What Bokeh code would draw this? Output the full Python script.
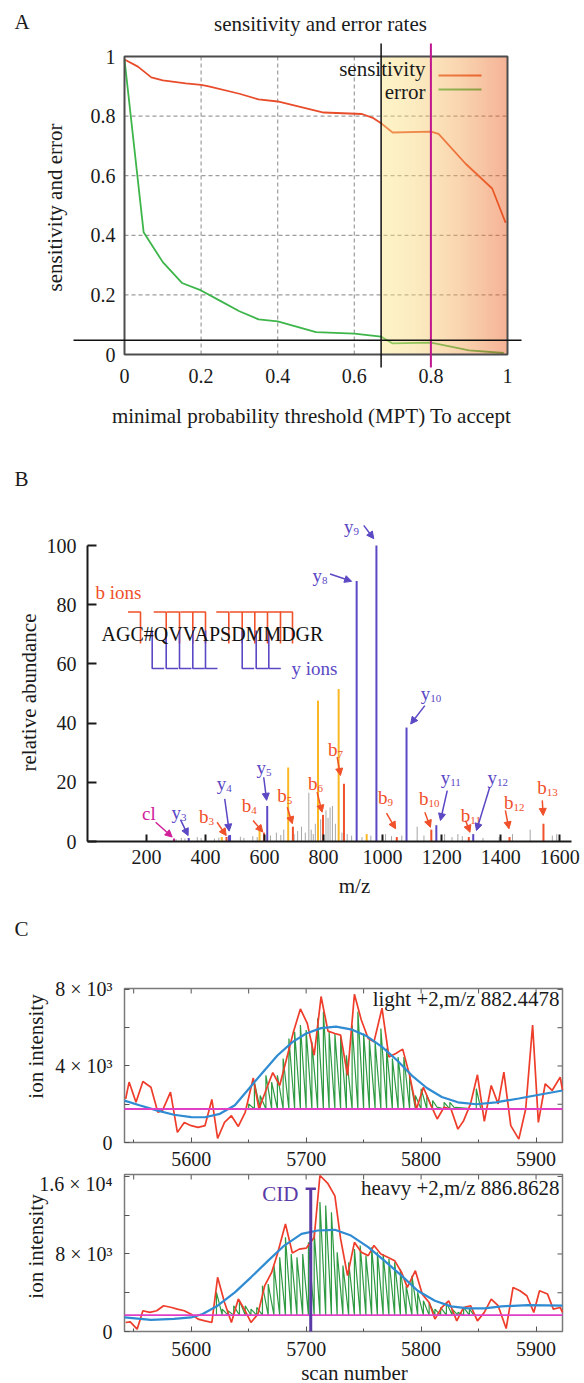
import numpy as np
from bokeh.plotting import figure
from bokeh.models import Range1d, FixedTicker, Label, Arrow, NormalHead, LinearAxis
from bokeh.layouts import column
from bokeh.embed import file_html
from bokeh.resources import INLINE

SERIF = "Liberation Serif"
W = 584

# ---------------- Panel A data ----------------
a_title = "sensitivity and error rates"
a_xlabel = "minimal probability threshold (MPT) To accept"
a_ylabel = "sensitivity and error"
sens_mpt = [0.0, 0.035, 0.07, 0.10, 0.16, 0.20, 0.22, 0.30, 0.35, 0.40, 0.52, 0.62, 0.65, 0.67, 0.70, 0.80, 0.82, 0.89, 0.96, 0.995]
sensitivity = [0.99, 0.966, 0.93, 0.92, 0.91, 0.905, 0.90, 0.875, 0.856, 0.849, 0.812, 0.807, 0.793, 0.776, 0.745, 0.748, 0.740, 0.641, 0.557, 0.442]
err_mpt = [0.0, 0.05, 0.07, 0.10, 0.15, 0.20, 0.25, 0.30, 0.35, 0.40, 0.50, 0.60, 0.67, 0.70, 0.80, 0.82, 0.90, 0.99]
error_rate = [0.99, 0.41, 0.37, 0.31, 0.24, 0.215, 0.18, 0.145, 0.118, 0.111, 0.075, 0.07, 0.06, 0.037, 0.04, 0.035, 0.014, 0.005]
mpt_cutoff = 0.67
mpt_chosen = 0.80
error_limit = 0.048
a_ticks = [0, 0.2, 0.4, 0.6, 0.8, 1]
a_tick_labels = ["0", "0.2", "0.4", "0.6", "0.8", "1"]
a_grid = [0.2, 0.4, 0.6, 0.8]

# ---------------- Panel B data ----------------
peptide = "AGC#QVVAPSDMMDGR"
b_xticks = [200, 400, 600, 800, 1000, 1200, 1400, 1600]
b_yticks = [0, 20, 40, 60, 80, 100]
y_ion_mz = [343, 479, 483, 609, 912, 979, 1081, 1182, 1307]
y_ion_int = [1.2, 2.0, 2.2, 12.0, 88.0, 100.0, 38.5, 5.5, 2.5]
b_ion_mz = [471, 598, 696, 798, 869, 1048, 1165, 1292, 1430, 1545]
b_ion_int = [1.5, 3.0, 5.0, 9.0, 19.5, 1.5, 4.0, 1.5, 1.5, 6.0]
other_mz = [455, 583, 680, 781, 851, 946]
other_int = [1.5, 5.3, 25.0, 47.6, 51.5, 2.5]
cl_mz = [293]
cl_int = [1.0]
noise_mz = [300, 318, 330, 372, 385, 430, 445, 518, 530, 560, 575, 620, 640, 655, 665, 700, 712, 725,
            738, 750, 758, 765, 772, 790, 808, 815, 822, 830, 840, 862, 880, 895, 930, 960, 1010,
            1030, 1065, 1117, 1140, 1210, 1235, 1255, 1270, 1340, 1395, 1440, 1500, 1575, 1590]
noise_int = [0.8, 1.2, 1.0, 1.5, 1.2, 1.0, 1.3, 1.6, 1.2, 1.8, 1.5, 2.0, 3.0, 2.2, 4.0, 2.5, 3.5, 5.0,
             3.0, 16.5, 4.0, 2.5, 6.0, 7.5, 10.5, 8.0, 11.5, 12.0, 6.0, 3.0, 2.5, 2.0, 1.5, 2.0, 2.5,
             1.8, 2.0, 5.0, 2.0, 2.5, 1.5, 2.5, 1.8, 1.2, 1.5, 2.5, 4.0, 2.0, 2.5]
ion_label = ["cl", "y3", "b3", "y4", "b4", "y5", "b5", "b6", "b7", "y8", "y9", "y10", "b9", "b10",
             "y11", "b11", "y12", "b12", "b13"]
label_mz = [208, 307, 400, 460, 545, 595, 665, 769, 837, 784, 891, 1151, 1006, 1145, 1219, 1287, 1377, 1433, 1546]
label_ab = [9.6, 9.9, 8.4, 19.5, 12.2, 25.1, 15.5, 19.5, 31.0, 89.9, 106.5, 49.9, 15.0, 14.4, 21.7, 8.8, 21.7, 13.3, 18.3]
arrow_from_mz = [231, 315, 439, 465, 561, 597, 677, 778, 846, 822, 936, 1143, 1013, 1143, 1219, 1281, 1363, 1416, 1541]
arrow_from_ab = [6.5, 7.4, 6.5, 14.4, 7.1, 21.7, 11.6, 16.7, 28.5, 90.4, 106.8, 45.9, 9.6, 9.9, 17.2, 7.1, 18.3, 10.5, 13.9]
arrow_to_mz = [287, 341, 470, 480, 594, 607, 694, 795, 857, 895, 970, 1095, 1044, 1162, 1196, 1296, 1318, 1428, 1544]
arrow_to_ab = [1.5, 2.0, 2.0, 3.5, 3.2, 13.9, 6.0, 9.9, 22.3, 87.9, 102.3, 39.7, 4.3, 4.8, 7.1, 3.1, 3.7, 4.3, 8.8]

# ---------------- Panel C data ----------------
c_xticks = [5600, 5700, 5800, 5900]
c_xminor = [5550, 5650, 5750, 5850]
light_scan = [5543, 5546, 5552, 5558, 5565, 5571, 5575, 5582, 5588, 5594, 5600, 5606, 5612, 5618, 5623, 5629,
              5635, 5641, 5647, 5654, 5659, 5666, 5671, 5677, 5683, 5689, 5695, 5701, 5707, 5713, 5719, 5725,
              5730, 5736, 5742, 5748, 5754, 5759, 5766, 5772, 5778, 5784, 5790, 5796, 5802, 5808, 5814, 5820,
              5826, 5832, 5837, 5843, 5849, 5855, 5861, 5867, 5872, 5878, 5885, 5891, 5897, 5902, 5908, 5914,
              5921, 5923]
light_int = [2280, 3160, 2100, 3190, 2890, 1580, 1670, 2630, 530, 1050, 880, 790, 880, 2250, 210, 1050,
             1400, 840, 1580, 3370, 1750, 2890, 3650, 2980, 4380, 5790, 6980, 6230, 4560, 7630, 5820, 5700,
             5610, 3510, 7750, 6400, 5440, 5260, 7020, 4470, 4650, 4880, 3510, 1750, 2890, 2020, 1230, 1840,
             1750, 700, 1140, 2020, 3540, 1100, 2980, 2020, 3680, 880, 175, 1750, 6140, 1050, 3070, 2720,
             3420, 2720]
light_fit_scan = [5542, 5555, 5570, 5585, 5600, 5612, 5625, 5638, 5650, 5662, 5675, 5688, 5700, 5713,
                  5726, 5740, 5753, 5766, 5779, 5792, 5805, 5818, 5832, 5848, 5865, 5885, 5905, 5923]
light_fit = [2190, 1950, 1680, 1450, 1330, 1320, 1500, 1950, 2800, 3650, 4550, 5250, 5700, 5980,
             6060, 5900, 5550, 5000, 4300, 3500, 2850, 2380, 2100, 2000, 2100, 2300, 2520, 2720]
light_base = 1750
light_stem_scan = [5650, 5655, 5660, 5665, 5670, 5675, 5680, 5685, 5690, 5695, 5700, 5705, 5710, 5715,
                   5720, 5725, 5730, 5735, 5740, 5745, 5750, 5755, 5760, 5765, 5770, 5775, 5780, 5785,
                   5790, 5795, 5800, 5805, 5810, 5815, 5820, 5825, 5830, 5848]
light_stem_top = [2020, 3160, 2460, 3510, 3160, 3510, 4385, 5440, 5790, 6140, 5880, 5260, 6490, 6840,
                  5790, 5700, 5525, 4560, 6140, 6840, 5700, 5350, 5260, 5960, 4910, 4385, 4470, 4470,
                  3510, 2460, 2810, 2460, 2190, 1840, 2100, 2100, 1840, 2810]
heavy_scan = [5543, 5547, 5553, 5558, 5564, 5570, 5576, 5583, 5588, 5594, 5600, 5606, 5612, 5618, 5623,
              5629, 5635, 5641, 5647, 5652, 5658, 5664, 5670, 5675, 5682, 5688, 5694, 5700, 5707, 5712,
              5719, 5725, 5730, 5736, 5742, 5748, 5754, 5759, 5765, 5771, 5777, 5783, 5788, 5795, 5801,
              5807, 5812, 5818, 5824, 5831, 5837, 5843, 5849, 5855, 5861, 5867, 5874, 5880, 5886, 5892,
              5898, 5903, 5910, 5915, 5921, 5923]
heavy_int = [930, 1000, 240, 2140, 1970, 2140, 2660, 2480, 2310, 2140, 1790, 1280, 1100, 930, 5590,
             3000, 930, 3350, 2140, 930, 1790, 4730, 6100, 8000, 11100, 8100, 8500, 8600, 9700, 16100,
             15250, 14000, 9550, 5760, 9200, 8180, 7830, 8870, 8000, 7660, 7310, 6100, 4550, 6280, 3860,
             3000, 1280, 2480, 3170, 1100, 2480, 2660, 1100, 1970, 3350, 2660, 310, 4550, 4210, 3690,
             1970, 4210, 3860, 2310, 2480, 1970]
heavy_fit_scan = [5542, 5565, 5585, 5600, 5610, 5623, 5638, 5652, 5667, 5681, 5696, 5710, 5725, 5739,
                  5754, 5768, 5783, 5797, 5812, 5826, 5841, 5855, 5870, 5893, 5923]
heavy_fit = [1450, 1200, 1300, 1450, 1800, 2660, 4040, 5590, 7310, 8870, 10070, 10420, 10490, 9900,
             8700, 7310, 5760, 4210, 3170, 2590, 2380, 2380, 2590, 2730, 2660]
heavy_base = 1690
heavy_stem_scan = [5622, 5627, 5632, 5637, 5642, 5647, 5652, 5657, 5662, 5667, 5672, 5677, 5682, 5687,
                   5692, 5697, 5702, 5707, 5712, 5717, 5722, 5727, 5732, 5737, 5742, 5747, 5752, 5757,
                   5762, 5767, 5772, 5777, 5782, 5787, 5792, 5797, 5802, 5807, 5812, 5817, 5822, 5827,
                   5832, 5837, 5842]
heavy_stem_top = [4040, 2310, 2140, 2660, 3170, 2660, 2310, 2480, 4730, 4900, 6800, 7650, 9730, 8000,
                  7650, 8000, 9200, 10250, 13350, 13000, 12300, 8180, 6800, 7140, 8520, 8870, 7830, 8700,
                  8180, 8000, 7490, 7140, 6450, 4730, 5760, 4040, 3170, 3000, 2310, 2480, 3000, 2310,
                  1970, 2480, 2310]
cid_scan = 5704
cid_top = 14730
light_yticks = [0, 4000, 8000]
light_yminor = [2000, 6000]
light_ylabels = ["0", "4 × 10³", "8 × 10³"]
heavy_yticks = [0, 8000, 16000]
heavy_yminor = [4000, 12000]
heavy_ylabels = ["0", "8 × 10³", "1.6 × 10⁴"]

# ---------------- colours ----------------
RED_A, GREEN_A = "#e84c2a", "#3db54a"
PURPLE, RED_B, GOLD, GRAY, MAGENTA = "#5a48c4", "#f0502a", "#f9b824", "#a6a6a6", "#d0209a"
RED_C, BLUE_C, GREEN_C, MAG_C, CID_C = "#ee3d2a", "#2f8bd2", "#2e9a42", "#e040c8", "#5a3aa5"
TXT = "#1a1a1a"


def panel(canvas_top, canvas_h, frame, xr, yr):
    """Figure whose frame is the whole canvas; data range placed at page box `frame`."""
    fl, ft, fw, fh = frame
    x0, x1 = xr
    y0, y1 = yr
    sx = fw / (x1 - x0)
    sy = fh / (y1 - y0)
    fb = ft + fh
    p = figure(width=W, height=canvas_h, output_backend="svg", toolbar_location=None,
               x_range=Range1d(x0 - fl / sx, x0 + (W - fl) / sx),
               y_range=Range1d(y0 - (canvas_top + canvas_h - fb) / sy, y0 + (fb - canvas_top) / sy),
               min_border=0, x_axis_location=None, y_axis_location=None)
    p.outline_line_color = None
    p.grid.visible = False
    p.title.visible = False

    def fx(px):
        return x0 + (px - fl) / sx

    def fy(py):
        return y0 + (fb - py) / sy
    return p, fx, fy


def axis(loc, ticks, size="20px", **kw):
    ax = LinearAxis(fixed_location=loc, ticker=FixedTicker(ticks=ticks, minor_ticks=kw.pop("minor", [])),
                    major_label_text_font=SERIF, major_label_text_font_size=size,
                    major_label_text_color=TXT, **kw)
    return ax


def lab(p, x, y, text, size="21px", color=TXT, align="left", angle=0.0):
    p.add_layout(Label(x=x, y=y, text=text, text_font=SERIF, text_font_size=size,
                       text_color=color, text_align=align, text_baseline="middle", angle=angle))


# =============== Panel A ===============
pA, fxA, fyA = panel(0, 466, (124, 56, 383, 298), (0, 1), (0, 1))
pA.segment(x0=a_grid, y0=0, x1=a_grid, y1=1, line_color="#9c9c9c", line_dash="4 3", line_width=1.2)
pA.segment(x0=0, y0=a_grid, x1=1, y1=a_grid, line_color="#9c9c9c", line_dash="4 3", line_width=1.2)
pA.line(sens_mpt, sensitivity, line_color=RED_A, line_width=1.8)
pA.line(err_mpt, error_rate, line_color=GREEN_A, line_width=1.8)
pA.segment(x0=[fxA(438)] * 2, y0=[fyA(75), fyA(89)], x1=[fxA(481)] * 2, y1=[fyA(75), fyA(89)],
           line_color=[RED_A, GREEN_A], line_width=2.2)
# accepted region, gradient overlay
N = 256
t = np.linspace(0, 1, N) ** 1.6
c0 = np.array([250.6, 228.3, 128.3])
c1 = np.array([232.8, 83.9, 21.7])
cols = c0[None, :] * (1 - t[:, None]) + c1[None, :] * t[:, None]
img = np.zeros((1, N, 4), dtype=np.uint8)
img[0, :, :3] = np.clip(cols, 0, 255).astype(np.uint8)
img[0, :, 3] = 115
pA.image_rgba(image=[img.view(np.uint32).reshape(1, N)], x=mpt_cutoff, y=0,
              dw=1 - mpt_cutoff, dh=1)
pA.quad(left=0, right=1, bottom=0, top=1, fill_color=None, line_color="#4d4d4d", line_width=2)
pA.segment(x0=[mpt_cutoff], y0=[fyA(43)], x1=[mpt_cutoff], y1=[fyA(367)], line_color="#111111", line_width=1.5)
pA.segment(x0=[mpt_chosen], y0=[fyA(43)], x1=[mpt_chosen], y1=[fyA(367)], line_color="#c0178f", line_width=2)
pA.segment(x0=[fxA(73)], y0=[error_limit], x1=[fxA(521)], y1=[error_limit], line_color="#111111", line_width=1.5)

for side, ax in (("below", axis(0, a_ticks, major_label_standoff=14)),
                 ("left", axis(0, a_ticks, major_label_standoff=9))):
    ax.major_label_overrides = dict(zip(a_ticks, a_tick_labels))
    ax.axis_line_color = None
    ax.major_tick_line_color = None
    ax.minor_tick_line_color = None
    ax.major_tick_in = 0
    ax.major_tick_out = 0
    pA.add_layout(ax, side)

lab(pA, fxA(425), fyA(68), "sensitivity", align="right")
lab(pA, fxA(425), fyA(91), "error", align="right")
lab(pA, fxA(320), fyA(23), a_title, align="center")
lab(pA, fxA(14), fyA(21), "A")
lab(pA, fxA(311), fyA(415), a_xlabel, align="center")
lab(pA, fxA(54), fyA(207), a_ylabel, align="center", angle=np.pi / 2)

# =============== Panel B ===============
pB, fxB, fyB = panel(466, 452, (87, 545, 484, 296), (0, 1640), (0, 100))
pB.segment(x0=noise_mz, y0=0, x1=noise_mz, y1=noise_int, line_color=GRAY, line_width=1)
pB.segment(x0=other_mz, y0=0, x1=other_mz, y1=other_int, line_color=GOLD, line_width=2)
pB.segment(x0=b_ion_mz, y0=0, x1=b_ion_mz, y1=b_ion_int, line_color=RED_B, line_width=2)
pB.segment(x0=y_ion_mz, y0=0, x1=y_ion_mz, y1=y_ion_int, line_color=PURPLE, line_width=2)
pB.segment(x0=cl_mz, y0=0, x1=cl_mz, y1=cl_int, line_color=MAGENTA, line_width=2)

bx = axis(0, b_xticks, major_label_standoff=8, bounds=(0, 1640))
by = axis(0, b_yticks, major_label_standoff=11, bounds=(0, 100))
for ax, tin in ((bx, 7), (by, 9)):
    ax.axis_line_width = 2
    ax.axis_line_color = TXT
    ax.major_tick_line_color = TXT
    ax.major_tick_line_width = 2
    ax.major_tick_out = 0
    ax.major_tick_in = tin
    ax.minor_tick_line_color = None
pB.add_layout(bx, "below")
pB.add_layout(by, "left")
lab(pB, fxB(354), fyB(885), "m/z", align="center")
lab(pB, fxB(28), fyB(692), "relative abundance", align="center", angle=np.pi / 2)

ion_color = {"y": PURPLE, "b": RED_B, "c": MAGENTA}
px_per_ab = 296 / 100
for name, mz, ab, xs, ys, xe, ye in zip(ion_label, label_mz, label_ab, arrow_from_mz, arrow_from_ab,
                                         arrow_to_mz, arrow_to_ab):
    c = ion_color[name[0]]
    if name == "cl":
        lab(pB, mz, ab, "cl", size="19px", color=c, align="center")
    else:
        pB.add_layout(Label(x=mz, y=ab, text=name[0], x_offset=3, text_font=SERIF, text_font_size="19px",
                            text_color=c, text_align="right", text_baseline="middle"))
        pB.add_layout(Label(x=mz, y=ab - 5 / px_per_ab, text=name[1:], x_offset=3, text_font=SERIF,
                            text_font_size="11px", text_color=c, text_align="left", text_baseline="middle"))
    pB.add_layout(Arrow(x_start=xs, y_start=ys, x_end=xe, y_end=ye, line_color=c, line_width=1.5,
                        end=NormalHead(size=7, fill_color=c, line_color=c)))

# sequence coverage annotation (page-pixel layout of the brackets)
b_break_px = [140, 165.7, 179, 192.3, 205, 228.3, 241.7, 254.3, 267, 280, 292]
y_break_px = [151.7, 165.7, 179, 192.3, 205, 241.7, 255.7, 268.3]
pB.multi_line([[fxB(p - 12.5), fxB(p), fxB(p)] for p in b_break_px],
              [[fyB(611.5), fyB(611.5), fyB(643)] for p in b_break_px], line_color=RED_B, line_width=1.6)
pB.multi_line([[fxB(p), fxB(p), fxB(p + 12)] for p in y_break_px],
              [[fyB(630), fyB(668), fyB(668)] for p in y_break_px], line_color=PURPLE, line_width=1.6)
lab(pB, fxB(101), fyB(633), peptide, size="20px", color="#111111")
lab(pB, fxB(95), fyB(592), "b ions", size="19px", color=RED_B)
lab(pB, fxB(291), fyB(668), "y ions", size="19px", color=PURPLE)
lab(pB, fxB(14), fyB(478), "B")


# =============== Panel C ===============
def zigzag(scans, tops, base):
    xs, ys = [], []
    for s, v in zip(scans, tops):
        xs += [s, s]
        ys += [base, v]
    xs.append(scans[-1] + 4)
    ys.append(base)
    return xs, ys


def make_c(canvas_top, canvas_h, frame, yend, yticks, yminor, ylabels, xstand):
    p, fx, fy = panel(canvas_top, canvas_h, frame, (5542, 5923), (0, yend))
    fl, ft, fw, fh = frame
    xa = axis(0, c_xticks, minor=c_xminor, major_label_standoff=xstand)
    ya = axis(5542, yticks, minor=yminor, major_label_standoff=12)
    ya.major_label_overrides = dict(zip(yticks, ylabels))
    for ax in (xa, ya):
        ax.axis_line_color = None
        ax.major_tick_out = 0
        ax.major_tick_in = 5
        ax.minor_tick_out = 0
        ax.minor_tick_in = 3 if ax is xa else 5
        ax.major_tick_line_color = "#555555"
        ax.minor_tick_line_color = "#555555"
    p.add_layout(xa, "below")
    p.add_layout(ya, "left")
    xt = c_xticks + c_xminor
    p.segment(x0=xt, y0=yend, x1=xt, y1=fy(ft + 5), line_color="#555555", line_width=1)
    yt = yticks + yminor
    p.segment(x0=5923, y0=yt, x1=fx(fl + fw - 5), y1=yt, line_color="#555555", line_width=1)
    p.quad(left=5542, right=5923, bottom=0, top=yend, fill_color=None, line_color="#7a7a7a",
           line_width=1.5)
    return p, fx, fy


pC1, fxC1, fyC1 = make_c(918, 254, (124, 988, 438, 154), 8050, light_yticks, light_yminor,
                         light_ylabels, 9)
zx, zy = zigzag(light_stem_scan, light_stem_top, light_base)
pC1.line(zx, zy, line_color=GREEN_C, line_width=1.2)
pC1.line(light_scan, light_int, line_color=RED_C, line_width=1.7)
pC1.line(light_fit_scan, light_fit, line_color=BLUE_C, line_width=2.2)
pC1.line([5542, 5923], [light_base, light_base], line_color=MAG_C, line_width=1.8)
lab(pC1, fxC1(559), fyC1(998), "light +2,m/z 882.4478", align="right")
lab(pC1, fxC1(14), fyC1(928), "C")
lab(pC1, fxC1(35), fyC1(1046), "ion intensity", align="center", angle=np.pi / 2)

pC2, fxC2, fyC2 = make_c(1172, 211, (124, 1174, 438, 157), 16200, heavy_yticks, heavy_yminor,
                         heavy_ylabels, 10)
zx, zy = zigzag(heavy_stem_scan, heavy_stem_top, heavy_base)
pC2.line(zx, zy, line_color=GREEN_C, line_width=1.2)
pC2.line(heavy_scan, heavy_int, line_color=RED_C, line_width=1.7)
pC2.line(heavy_fit_scan, heavy_fit, line_color=BLUE_C, line_width=2.2)
pC2.line([5542, 5923], [heavy_base, heavy_base], line_color=MAG_C, line_width=1.8)
pC2.segment(x0=[cid_scan], y0=[0], x1=[cid_scan], y1=[cid_top], line_color=CID_C, line_width=3)
pC2.segment(x0=[cid_scan - 4.5], y0=[cid_top], x1=[cid_scan + 4.5], y1=[cid_top], line_color=CID_C,
            line_width=2.5)
lab(pC2, fxC2(298), fyC2(1193), "CID", size="21px", color=CID_C, align="right")
lab(pC2, fxC2(559), fyC2(1187), "heavy +2,m/z 886.8628", align="right")
lab(pC2, fxC2(35), fyC2(1246), "ion intensity", align="center", angle=np.pi / 2)
lab(pC2, fxC2(354), fyC2(1372), "scan number", align="center")

layout = column(pA, pB, pC1, pC2, spacing=0)
open("out.html", "w").write(file_html(layout, INLINE))
